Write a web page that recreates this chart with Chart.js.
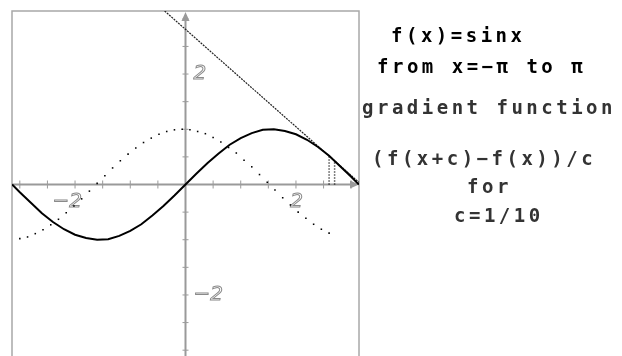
<!DOCTYPE html>
<html>
<head>
<meta charset="utf-8">
<script src="https://cdn.jsdelivr.net/npm/chart.js@4"></script>
<style>
  html, body { margin: 0; padding: 0; background: #fff; overflow: hidden; }
  #wrap { position: relative; width: 622px; height: 362px; }
</style>
</head>
<body>
<div id="wrap"><canvas id="myChart" width="622" height="362"></canvas></div>
<script>
// f(x) = sin x, plotted from -pi to pi
const sinX = [
  -3.14, -3.0, -2.8, -2.6, -2.4, -2.2, -2.0, -1.8, -1.6, -1.4, -1.2, -1.0,
  -0.8, -0.6, -0.4, -0.2, 0, 0.2, 0.4, 0.6, 0.8, 1.0, 1.2, 1.4, 1.6, 1.8,
  2.0, 2.2, 2.4, 2.6, 2.8, 3.0, 3.14,
];
const sinY = [
  0, -0.14, -0.33, -0.52, -0.68, -0.81, -0.91, -0.97, -1.0, -0.99, -0.93, -0.84,
  -0.72, -0.56, -0.39, -0.2, 0, 0.2, 0.39, 0.56, 0.72, 0.84, 0.93, 0.99, 1.0, 0.97,
  0.91, 0.81, 0.68, 0.52, 0.33, 0.14, 0,
];

// gradient function (f(x+c)-f(x))/c, the dotted curve
const gradX = [
  -3.0, -2.86, -2.72, -2.58, -2.44, -2.3, -2.16, -2.02, -1.88, -1.74, -1.6,
  -1.46, -1.32, -1.18, -1.04, -0.9, -0.76, -0.62, -0.48, -0.34, -0.2, -0.06,
  0.08, 0.22, 0.36, 0.5, 0.64, 0.78, 0.92, 1.06, 1.2, 1.34, 1.48, 1.62, 1.76,
  1.9, 2.04, 2.18, 2.32, 2.46, 2.6,
];
const gradY = [
  -0.98, -0.95, -0.89, -0.82, -0.73, -0.63, -0.51, -0.39, -0.26, -0.12, 0.02,
  0.16, 0.3, 0.43, 0.55, 0.66, 0.76, 0.84, 0.91, 0.96, 0.99, 1.0,
  0.99, 0.96, 0.92, 0.85, 0.77, 0.67, 0.57, 0.44, 0.32, 0.18, 0.04, -0.1, -0.24,
  -0.37, -0.5, -0.61, -0.72, -0.81, -0.88,
];

// secant through x and x+c
const secantX = [-0.5, 3.14];
const secantY = [3.25, 0.04];
const markX = [2.6, 2.7];
const markY = [0.52, 0.43];

// axis ticks and labels
const tickValues = [-3, -2.5, -2, -1.5, -1, -0.5, 0.5, 1, 1.5, 2, 2.5, 3];
const labelValues = [-2, 2];
const labelTexts = ["\u22122", "2"];

const sideText = [
  "f(x)=sinx",
  "from x=\u2212\u03c0 to \u03c0",
  "gradient function",
  "(f(x+c)\u2212f(x))/c",
  "for",
  "c=1/10",
];

const PI = 3.14159;
const axisGrey = "#9a9a9a";

const toPoints = (xs, ys) => xs.map((x, i) => ({ x: x, y: ys[i] }));

const axesPlugin = {
  id: "axes",
  beforeDatasetsDraw(chart) {
    const ctx = chart.ctx;
    const a = chart.chartArea;
    const sx = chart.scales.x;
    const sy = chart.scales.y;
    const ox = sx.getPixelForValue(0);
    const oy = sy.getPixelForValue(0);
    ctx.save();

    // frame
    ctx.strokeStyle = "#a8a8a8";
    ctx.lineWidth = 1.5;
    ctx.strokeRect(a.left, a.top, a.right - a.left, a.bottom - a.top);

    // axes
    ctx.strokeStyle = axisGrey;
    ctx.fillStyle = axisGrey;
    ctx.lineWidth = 2;
    ctx.beginPath();
    ctx.moveTo(a.left, oy);
    ctx.lineTo(a.right - 4, oy);
    ctx.moveTo(ox, a.bottom);
    ctx.lineTo(ox, a.top + 4);
    ctx.stroke();

    // arrow heads
    ctx.beginPath();
    ctx.moveTo(a.right, oy);
    ctx.lineTo(a.right - 9, oy - 4);
    ctx.lineTo(a.right - 9, oy + 4);
    ctx.closePath();
    ctx.fill();
    ctx.beginPath();
    ctx.moveTo(ox, a.top + 1);
    ctx.lineTo(ox - 4, a.top + 10);
    ctx.lineTo(ox + 4, a.top + 10);
    ctx.closePath();
    ctx.fill();

    // tick marks
    ctx.lineWidth = 1;
    ctx.beginPath();
    tickValues.forEach((v) => {
      const px = sx.getPixelForValue(v);
      const py = sy.getPixelForValue(v);
      ctx.moveTo(px, oy - 4);
      ctx.lineTo(px, oy + 4);
      ctx.moveTo(ox - 3, py);
      ctx.lineTo(ox + 3, py);
    });
    ctx.stroke();

    // outlined tick labels
    ctx.font = "italic 20px 'DejaVu Sans'";
    ctx.strokeStyle = "#8a8a8a";
    ctx.lineWidth = 1;
    labelValues.forEach((v, i) => {
      ctx.textAlign = "right";
      ctx.textBaseline = "top";
      ctx.strokeText(labelTexts[i], sx.getPixelForValue(v) + 7, oy + 7);
      ctx.textAlign = "left";
      ctx.textBaseline = "middle";
      ctx.strokeText(labelTexts[i], ox + 8, sy.getPixelForValue(v));
    });
    ctx.restore();
  },
  afterDraw(chart) {
    const ctx = chart.ctx;
    const lefts = [391, 377, 362, 372, 467, 454];
    const bases = [42, 73, 114, 165, 193, 222];
    ctx.save();
    ctx.font = "bold 19px 'DejaVu Sans Mono'";
    ctx.letterSpacing = "3.5px";
    ctx.textAlign = "left";
    ctx.textBaseline = "alphabetic";
    sideText.forEach((t, i) => {
      ctx.fillStyle = i < 2 ? "#000" : "#333";
      ctx.fillText(t, lefts[i], bases[i]);
    });
    ctx.restore();
  },
};

const myChart = new Chart("myChart", {
  type: "scatter",
  data: {
    datasets: [
      {
        data: toPoints(sinX, sinY),
        showLine: true,
        borderColor: "#000",
        borderWidth: 2,
        pointRadius: 0,
      },
      {
        data: toPoints(gradX, gradY),
        showLine: false,
        pointStyle: "rect",
        pointRadius: 1.1,
        backgroundColor: "#000",
        borderWidth: 0,
      },
      {
        data: toPoints(secantX, secantY),
        showLine: true,
        borderColor: "#222",
        borderWidth: 1.2,
        borderDash: [2, 1],
        pointRadius: 0,
      },
      {
        data: [{ x: markX[0], y: 0 }, { x: markX[0], y: markY[0] }],
        showLine: true,
        borderColor: "#000",
        borderWidth: 1.5,
        borderDash: [1, 2],
        pointRadius: 0,
      },
      {
        data: [{ x: markX[1], y: 0 }, { x: markX[1], y: markY[1] }],
        showLine: true,
        borderColor: "#000",
        borderWidth: 1.5,
        borderDash: [1, 2],
        pointRadius: 0,
      },
    ],
  },
  options: {
    responsive: false,
    animation: false,
    layout: {
      padding: { left: 12, top: 11, right: 263, bottom: 3 },
    },
    scales: {
      x: { type: "linear", min: -PI, max: PI, display: false },
      y: { type: "linear", min: -PI, max: PI, display: false },
    },
    plugins: {
      legend: { display: false },
      tooltip: { enabled: false },
    },
  },
  plugins: [axesPlugin],
});
</script>
</body>
</html>
